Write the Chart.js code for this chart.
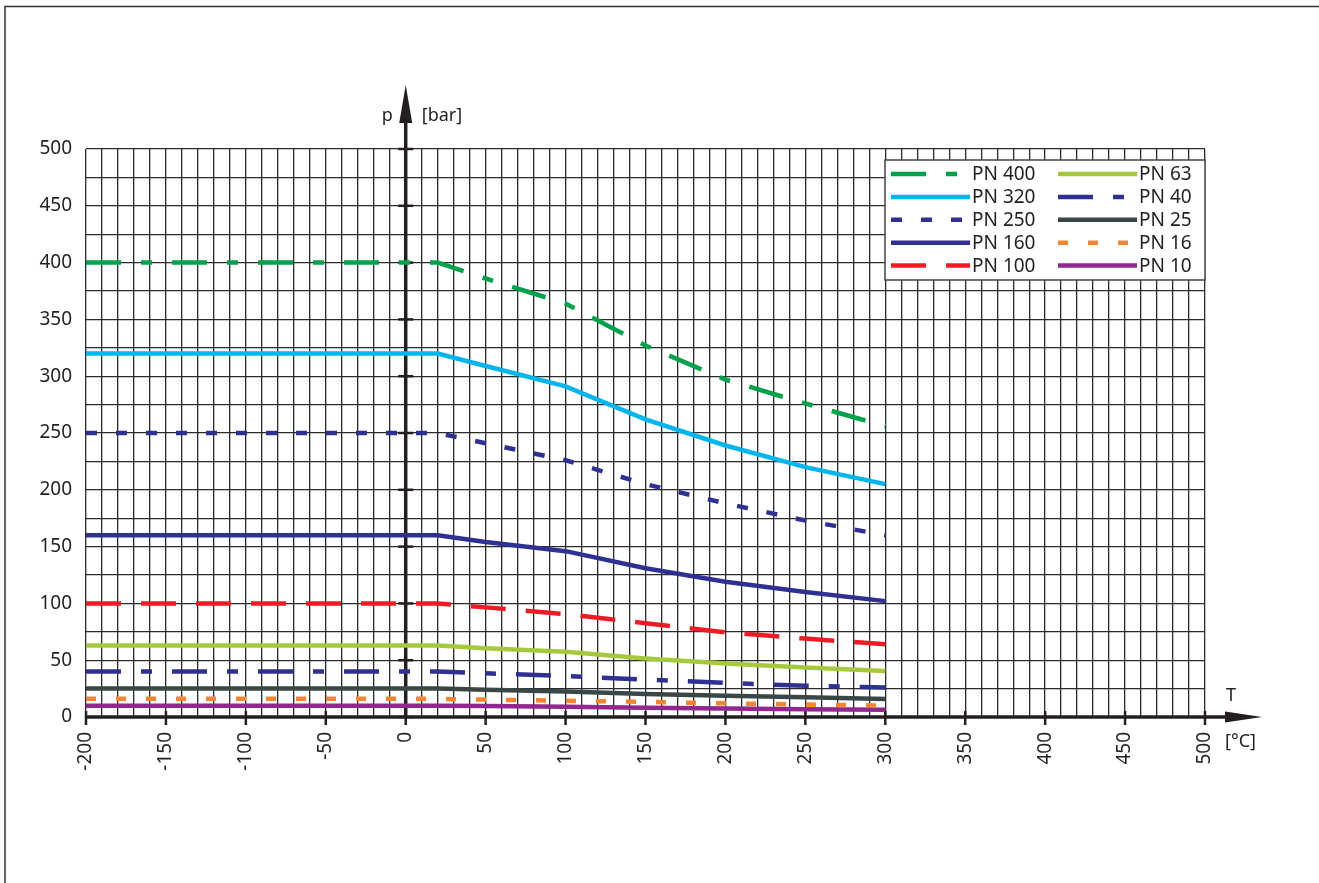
<!DOCTYPE html>
<html>
<head>
<meta charset="utf-8">
<script src="https://cdn.jsdelivr.net/npm/chart.js@4.4.0/dist/chart.umd.min.js"></script>
<style>
  html, body { margin: 0; padding: 0; background: #fff; }
  #grafico { display: block; }
</style>
</head>
<body>
<canvas id="grafico" width="1319" height="883"></canvas>
<script>
// Temperaturas (°C) de los puntos de cada curva
const temperaturas = [-200, 20, 50, 100, 150, 200, 250, 300];

// Presión admisible (bar) para cada PN
const pn400 = [400, 400, 386, 364, 327, 297, 276, 256];
const pn320 = [320, 320, 309, 291, 262, 239, 220, 205];
const pn250 = [250, 250, 241, 226, 205, 188, 173, 160];
const pn160 = [160, 160, 154, 146, 131, 119, 110, 102];
const pn100 = [100, 100, 96.5, 90.6, 82.5, 74.5, 69, 64];
const pn63 = [63, 63, 60.5, 57.5, 51.5, 47, 43.5, 40.5];
const pn40 = [40, 40, 38.5, 36, 33, 30, 27.5, 26];
const pn25 = [25, 25, 24, 22.5, 20.2, 18.8, 17.3, 15.8];
const pn16 = [16, 16, 15.3, 14.3, 13.3, 12, 11, 10];
const pn10 = [10, 10, 9.6, 9, 8.2, 7.5, 6.8, 6.3];

const nombres = ["PN 400", "PN 320", "PN 250", "PN 160", "PN 100", "PN 63", "PN 40", "PN 25", "PN 16", "PN 10"];
const series = [pn400, pn320, pn250, pn160, pn100, pn63, pn40, pn25, pn16, pn10];
const colores = ["#00a14b", "#00b4ee", "#2e3192", "#2e3192", "#ed1c24", "#a6c93c", "#2e3192", "#3b4646", "#f5852f", "#92278f"];
const trazos = [[35, 20, 11, 20], [], [11, 19], [], [35, 20], [], [35, 20, 11, 20], [], [10, 20], []];

// Etiquetas de los ejes
const ticksX = [-200, -150, -100, -50, 0, 50, 100, 150, 200, 250, 300, 350, 400, 450, 500];
const ticksY = [0, 50, 100, 150, 200, 250, 300, 350, 400, 450, 500];

const fuente = "'Noto Sans', 'DejaVu Sans', sans-serif";
const negro = "#231f20";

// Ejes con flechas, marcas y textos p / T
const ejesPlugin = {
  id: "ejes",
  beforeDatasetsDraw(chart) {
    const ctx = chart.ctx;
    const xs = chart.scales.x;
    const ys = chart.scales.y;
    const x0 = xs.getPixelForValue(0);
    const y0 = ys.getPixelForValue(0);
    ctx.save();
    ctx.strokeStyle = negro;
    ctx.fillStyle = negro;

    // eje p
    ctx.lineWidth = 3.5;
    ctx.beginPath();
    ctx.moveTo(x0, y0);
    ctx.lineTo(x0, 115);
    ctx.stroke();
    ctx.beginPath();
    ctx.moveTo(x0, 85);
    ctx.lineTo(x0 - 6.5, 123);
    ctx.lineTo(x0 + 6.5, 123);
    ctx.closePath();
    ctx.fill();

    // eje T
    ctx.beginPath();
    ctx.moveTo(xs.left, y0);
    ctx.lineTo(1230, y0);
    ctx.stroke();
    ctx.beginPath();
    ctx.moveTo(1262, y0);
    ctx.lineTo(1225, y0 - 5.5);
    ctx.lineTo(1225, y0 + 5.5);
    ctx.closePath();
    ctx.fill();

    // marcas
    ctx.lineWidth = 2.5;
    ticksY.forEach(v => {
      const y = ys.getPixelForValue(v);
      ctx.beginPath();
      ctx.moveTo(x0 - 7.5, y);
      ctx.lineTo(x0 + 7.5, y);
      ctx.stroke();
    });
    ticksX.forEach(v => {
      const x = xs.getPixelForValue(v);
      ctx.beginPath();
      ctx.moveTo(x, y0 - 6);
      ctx.lineTo(x, y0 + 8);
      ctx.stroke();
    });
    ctx.restore();
  },
  afterDraw(chart) {
    const ctx = chart.ctx;
    const xs = chart.scales.x;
    const area = chart.chartArea;
    const x0 = xs.getPixelForValue(0);
    ctx.save();

    // marco exterior
    ctx.strokeStyle = "#333";
    ctx.lineWidth = 1.5;
    ctx.beginPath();
    ctx.moveTo(5, 883);
    ctx.lineTo(5, 6.5);
    ctx.lineTo(1319, 6.5);
    ctx.stroke();

    // textos de los ejes
    ctx.fillStyle = negro;
    ctx.font = "18px " + fuente;
    ctx.textBaseline = "middle";
    ctx.textAlign = "right";
    ctx.fillText("p", x0 - 13, 116);
    ctx.textAlign = "left";
    ctx.fillText("[bar]", x0 + 16, 116);
    ctx.fillText("T", 1226, 696);
    ctx.fillText("[°C]", 1225, 742);

    // leyenda
    ctx.font = "19px " + fuente;
    const bx = area.right - 320;
    const by = area.top + 11;
    ctx.fillStyle = "#fff";
    ctx.fillRect(bx, by, 320, 120);
    ctx.strokeStyle = "#444";
    ctx.lineWidth = 1.5;
    ctx.strokeRect(bx, by, 320, 120);
    chart.data.datasets.forEach((ds, i) => {
      const col = Math.floor(i / 5);
      const fila = i % 5;
      const lx = bx + 6 + col * 167;
      const ly = by + 14 + fila * 22.9;
      ctx.strokeStyle = ds.borderColor;
      ctx.lineWidth = ds.borderWidth;
      ctx.setLineDash(ds.borderDash);
      ctx.beginPath();
      ctx.moveTo(lx, ly);
      ctx.lineTo(lx + 79, ly);
      ctx.stroke();
      ctx.setLineDash([]);
      ctx.fillStyle = negro;
      ctx.fillText(ds.label, lx + 81, ly + 1);
    });
    ctx.restore();
  }
};

const datasets = series.map((valores, i) => ({
  label: nombres[i],
  data: temperaturas.map((t, j) => ({ x: t, y: valores[j] })),
  borderColor: colores[i],
  borderWidth: 4.5,
  borderDash: trazos[i],
  borderCapStyle: "butt",
  pointRadius: 0,
  fill: false,
  tension: 0
}));

new Chart("grafico", {
  type: "line",
  data: { datasets: datasets },
  options: {
    responsive: false,
    animation: false,
    devicePixelRatio: 1,
    layout: { padding: { top: 149, right: 114, left: 0, bottom: 0 } },
    plugins: {
      legend: { display: false },
      tooltip: { enabled: false }
    },
    scales: {
      x: {
        type: "linear",
        min: -200,
        max: 500,
        afterFit: s => { s.height = 166; },
        border: { display: false },
        grid: { color: "#2b2b2b", lineWidth: 1.3, drawTicks: false },
        ticks: {
          stepSize: 10,
          autoSkip: false,
          minRotation: 90,
          maxRotation: 90,
          padding: 15,
          color: negro,
          font: { family: fuente, size: 19 },
          callback: v => ticksX.includes(v) ? String(v) : ""
        }
      },
      y: {
        min: 0,
        max: 500,
        afterFit: s => { s.width = 86; },
        border: { display: false },
        grid: { color: "#2b2b2b", lineWidth: 1.3, drawTicks: false },
        ticks: {
          stepSize: 25,
          autoSkip: false,
          padding: 14,
          color: negro,
          font: { family: fuente, size: 19 },
          callback: v => ticksY.includes(v) ? String(v) : ""
        }
      }
    }
  },
  plugins: [ejesPlugin]
});
</script>
</body>
</html>
